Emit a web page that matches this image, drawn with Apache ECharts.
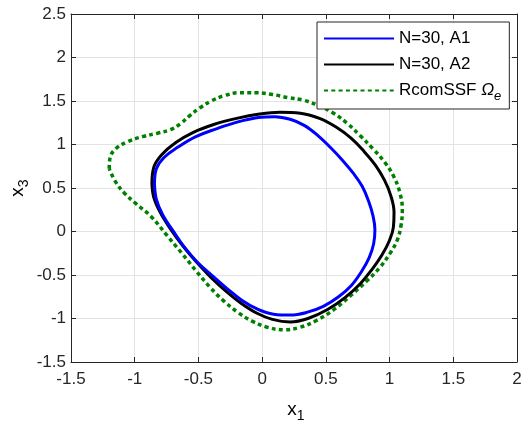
<!DOCTYPE html>
<html><head><meta charset="utf-8">
<script src="https://cdn.jsdelivr.net/npm/echarts@6/dist/echarts.min.js"></script>
<style>html,body{margin:0;padding:0;background:#fff}#c{width:532px;height:423px}</style>
</head><body><div id="c"></div>
<script>
const xTicks = [-1.5, -1, -0.5, 0, 0.5, 1, 1.5, 2];
const yTicks = [-1.5, -1, -0.5, 0, 0.5, 1, 1.5, 2, 2.5];
const seriesNames = ['N=30, A1', 'N=30, A2', 'RcomSSF Ωe'];
const axisTitles = ['{a|x}{b|1}', '{a|x}{b|3}'];

const curveA1 = [
  [-0.845, 0.55], [-0.83, 0.72], [-0.77, 0.85], [-0.66, 0.97], [-0.52, 1.09], [-0.36, 1.18],
  [-0.19, 1.26], [-0.03, 1.31], [0.10, 1.32], [0.22, 1.29], [0.33, 1.22], [0.44, 1.10],
  [0.54, 0.96], [0.63, 0.82], [0.715, 0.67], [0.785, 0.52], [0.835, 0.35], [0.87, 0.18],
  [0.885, 0.02], [0.875, -0.14], [0.84, -0.30], [0.78, -0.46], [0.70, -0.62], [0.60, -0.75],
  [0.48, -0.86], [0.35, -0.93], [0.22, -0.96], [0.09, -0.95], [-0.04, -0.89], [-0.16, -0.79],
  [-0.28, -0.65], [-0.39, -0.51], [-0.51, -0.35], [-0.61, -0.18], [-0.70, 0.01], [-0.78, 0.19],
  [-0.83, 0.37], [-0.845, 0.55]
];
const curveA2 = [
  [-0.865, 0.55], [-0.85, 0.74], [-0.79, 0.88], [-0.68, 1.02], [-0.54, 1.14], [-0.38, 1.23],
  [-0.20, 1.30], [-0.02, 1.35], [0.14, 1.37], [0.30, 1.36], [0.45, 1.30], [0.58, 1.20],
  [0.70, 1.07], [0.80, 0.92], [0.89, 0.76], [0.96, 0.59], [1.01, 0.41], [1.035, 0.22],
  [1.03, 0.05], [1.00, -0.10], [0.94, -0.27], [0.86, -0.44], [0.77, -0.60], [0.65, -0.76],
  [0.51, -0.90], [0.36, -1.00], [0.22, -1.04], [0.08, -1.01], [-0.04, -0.94], [-0.16, -0.83],
  [-0.28, -0.69], [-0.40, -0.53], [-0.51, -0.36], [-0.62, -0.17], [-0.72, 0.03], [-0.80, 0.22],
  [-0.85, 0.39], [-0.865, 0.55]
];
const curveRcom = [
  [-1.20, 0.72], [-1.195, 0.84], [-1.15, 0.95], [-1.06, 1.03], [-0.94, 1.09], [-0.82, 1.13],
  [-0.72, 1.17], [-0.64, 1.24], [-0.57, 1.33], [-0.49, 1.42], [-0.40, 1.50], [-0.30, 1.56],
  [-0.18, 1.595], [-0.05, 1.595], [0.08, 1.575], [0.20, 1.54], [0.32, 1.51], [0.44, 1.45],
  [0.56, 1.36], [0.67, 1.24], [0.77, 1.10], [0.87, 0.95], [0.96, 0.80], [1.03, 0.64],
  [1.08, 0.45], [1.10, 0.25], [1.09, 0.07], [1.06, -0.10], [1.00, -0.26], [0.92, -0.42],
  [0.82, -0.57], [0.70, -0.73], [0.57, -0.89], [0.43, -1.02], [0.30, -1.10], [0.17, -1.13],
  [0.04, -1.10], [-0.08, -1.03], [-0.19, -0.93], [-0.30, -0.80], [-0.41, -0.64], [-0.52, -0.45],
  [-0.63, -0.25], [-0.75, -0.04], [-0.87, 0.17], [-0.99, 0.32], [-1.08, 0.44], [-1.15, 0.57],
  [-1.20, 0.72]
];

const FONT = 'Liberation Sans';
const TXT = '#262626';
const chart = echarts.init(document.getElementById('c'), null, {renderer: 'canvas'});

function mkAxis(pos, min, max, labels, extra) {
  return Object.assign({
    type: 'value', position: pos, min: min, max: max, interval: 0.5,
    axisLine: {show: true, onZero: false, lineStyle: {color: TXT, width: 1}},
    axisTick: {show: true, inside: true, length: 5, lineStyle: {color: TXT}},
    axisLabel: {show: labels, color: TXT, fontFamily: FONT, fontSize: 17,
      formatter: v => String(v)},
    splitLine: {show: labels, lineStyle: {color: '#e3e3e3', width: 1}}
  }, extra || {});
}
const titleRich = {
  a: {fontSize: 19, fontFamily: FONT, color: TXT, lineHeight: 22},
  b: {fontSize: 14, fontFamily: FONT, color: TXT, lineHeight: 22, padding: [12, 0, 0, 0]}
};

chart.setOption({
  animation: false,
  backgroundColor: '#fff',
  grid: {left: 71, right: 15, top: 14, bottom: 61, containLabel: false, outerBoundsMode: 'none'},
  xAxis: [
    mkAxis('bottom', xTicks[0], xTicks[xTicks.length - 1], true, {
      axisLabel: {show: true, color: TXT, fontFamily: FONT, fontSize: 17, margin: 9, formatter: v => String(v)}
    }),
    mkAxis('top', xTicks[0], xTicks[xTicks.length - 1], false)
  ],
  yAxis: [
    mkAxis('left', yTicks[0], yTicks[yTicks.length - 1], true, {
      axisLabel: {show: true, color: TXT, fontFamily: FONT, fontSize: 17, margin: 5, formatter: v => String(v)}
    }),
    mkAxis('right', yTicks[0], yTicks[yTicks.length - 1], false)
  ],
  graphic: [
    {type: 'text', x: 296, y: 410, z: 10,
     style: {text: axisTitles[0], rich: titleRich, align: 'center', verticalAlign: 'middle'}},
    {type: 'text', x: 18, y: 188, rotation: Math.PI / 2, z: 10,
     style: {text: axisTitles[1], rich: titleRich, align: 'center', verticalAlign: 'middle'}}
  ],
  legend: {
    orient: 'vertical', left: 317, top: 22,
    padding: [6, 8, 6, 6], itemGap: 5, itemWidth: 70, itemHeight: 14,
    backgroundColor: '#fff', borderColor: TXT, borderWidth: 1, borderRadius: 0,
    data: seriesNames,
    itemStyle: {opacity: 0},
    formatter: n => n === seriesNames[2] ? 'RcomSSF {i|Ω}{s|e}' : n,
    textStyle: {color: '#000', fontFamily: FONT, fontSize: 17, lineHeight: 21,
      rich: {i: {fontStyle: 'italic', fontFamily: FONT, fontSize: 17, color: '#000'},
             s: {fontStyle: 'italic', fontFamily: FONT, fontSize: 13, color: '#000', padding: [12, 0, 0, 0]}}}
  },
  series: [
    {name: seriesNames[0], type: 'line', data: curveA1, smooth: 0.4, symbol: 'none', z: 4,
     lineStyle: {color: '#0000ff', width: 3}, itemStyle: {color: '#0000ff'}},
    {name: seriesNames[1], type: 'line', data: curveA2, smooth: 0.4, symbol: 'none', z: 3,
     lineStyle: {color: '#000000', width: 3}, itemStyle: {color: '#000000'}},
    {name: seriesNames[2], type: 'line', data: curveRcom, smooth: 0.4, symbol: 'none', z: 2,
     lineStyle: {color: '#008000', width: 3.5, type: [4, 3.3], cap: 'butt'}, itemStyle: {color: '#008000'}}
  ]
});
</script></body></html>
